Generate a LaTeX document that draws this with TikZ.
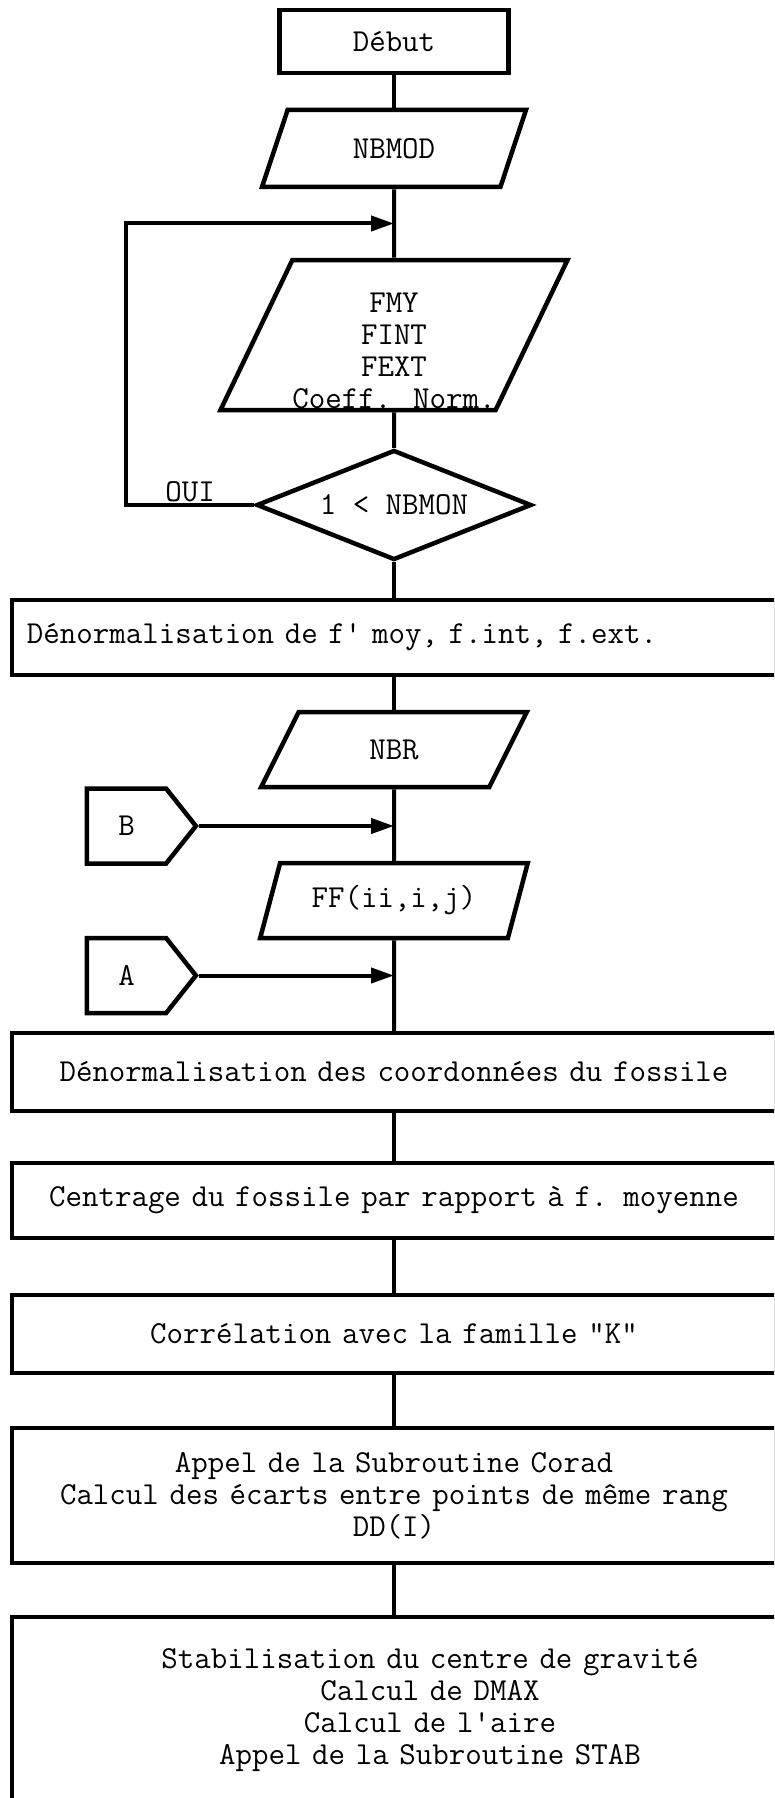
\documentclass[tikz,border=0pt]{standalone}
\usetikzlibrary{shapes.geometric,shapes.symbols,arrows.meta,calc}

\tikzset{
  every node/.style={font=\ttfamily\fontsize{32}{32}\selectfont},
  startbox/.style={draw, line width=4.5pt, minimum width=229pt, minimum height=63pt},
  iobox/.style={draw, line width=4.5pt, trapezium, trapezium left angle=64,
    trapezium right angle=116, trapezium stretches=true, inner sep=0pt},
  testbox/.style={draw, line width=4.5pt, diamond, aspect=2.5, minimum width=275pt,
    minimum height=110pt, inner sep=0pt},
  procbox/.style={draw, line width=4.5pt, minimum width=764pt, text width=744pt,
    inner xsep=10pt, align=center},
  pagelink/.style={draw, line width=4.5pt, signal, signal to=east,
    signal pointer angle=103, minimum width=109pt, minimum height=75pt, inner sep=0pt},
  flow/.style={line width=4pt},
  tip/.style={-{Triangle[length=23pt,width=15pt]}},
}

\begin{document}
\begin{tikzpicture}[x=1pt, y=1pt]
\path[use as bounding box, fill=white] (0,0) rectangle (774,-1798);
\clip (0,0) rectangle (774,-1798);
\node[startbox] (start) at (394,-41.5) {Début};
\node[iobox, minimum width=264pt, minimum height=77pt, node distance=107pt, below of=start] (nbmod) {NBMOD};
\node[iobox, minimum width=312pt, minimum height=150pt, align=center, node distance=186.5pt, below of=nbmod] (fmy) {\rule{0pt}{51pt}FMY\\FINT\\FEXT\\Coeff. Norm.};
\node[testbox, node distance=170pt, below of=fmy] (test) {1 < NBMON};
\node[procbox, align=left, inner xsep=15pt, text width=734pt, minimum height=75pt, node distance=132.5pt, below of=test] (denorm) {Dénormalisation de f\textquotesingle{} moy, f.int, f.ext.};
\node[iobox, minimum width=266pt, minimum height=75pt, node distance=112pt, below of=denorm] (nbr) {NBR};
\node[iobox, minimum width=268pt, minimum height=75pt, node distance=151pt, below of=nbr] (ff) {FF(ii,i,j)};
\node[procbox, minimum height=78pt, node distance=171.5pt, below of=ff] (dencoord) {Dénormalisation des coordonnées du fossile};
\node[procbox, minimum height=75pt, node distance=128.5pt, below of=dencoord] (centrage) {Centrage du fossile par rapport à f. moyenne};
\node[procbox, minimum height=78pt, node distance=133.5pt, below of=centrage] (correl) {Corrélation avec la famille "K"};
\node[procbox, minimum height=135pt, node distance=161.5pt, below of=correl] (appel) {Appel de la Subroutine Corad\\Calcul des écarts entre points de même rang\\DD(I)};
\node[procbox, minimum width=836pt, text width=816pt, minimum height=186pt, node distance=214.5pt, below of=appel, xshift=36pt] (stab) {Stabilisation du centre de gravité\\Calcul de DMAX\\Calcul de l\textquotesingle{}aire\\Appel de la Subroutine STAB};
\node[pagelink] (linkb) at (126.5,-826) {B};
\node[pagelink] (linka) at (126.5,-975.5) {A};

\coordinate (loopin) at ($(nbmod.south)!0.5!(fmy.north)$);
\coordinate (loopx) at (126,0);
\draw[flow] (start) -- (nbmod);
\draw[flow] (nbmod) -- (fmy);
\draw[flow] (fmy) -- (test);
\draw[flow] (test) -- (denorm);
\draw[flow] (denorm) -- (nbr);
\draw[flow] (nbr) -- (ff);
\draw[flow] (ff) -- (dencoord);
\draw[flow] (dencoord) -- (centrage);
\draw[flow] (centrage) -- (correl);
\draw[flow] (correl) -- (appel);
\draw[flow] (appel.south) -- (appel.south |- stab.north);
\draw[flow,tip] (test.west) -- node[above, inner sep=1pt] {OUI} (test.west -| loopx) |- (loopin);
\draw[flow,tip] (linkb.east) -- (linkb.east -| nbr.south);
\draw[flow,tip] (linka.east) -- (linka.east -| ff.south);
\end{tikzpicture}
\end{document}
